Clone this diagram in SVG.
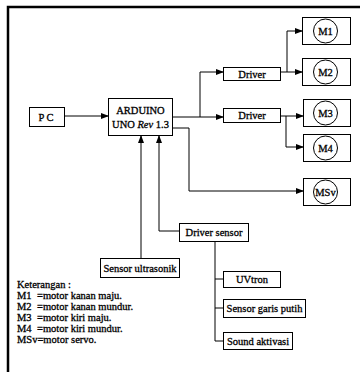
<svg xmlns="http://www.w3.org/2000/svg" width="360" height="372" viewBox="0 0 360 372">
<defs>
<style>
.box{fill:#fff;stroke:#000;stroke-width:1}
.c{fill:#fff;stroke:#000;stroke-width:1}
.t{font-family:"Liberation Serif","Times New Roman",serif;font-size:10.5px;fill:#000;stroke:#000;stroke-width:0.3;text-anchor:middle}
.l{font-family:"Liberation Serif","Times New Roman",serif;font-size:10.5px;fill:#000;stroke:#000;stroke-width:0.3}
.w{fill:none;stroke:#000;stroke-width:1}
</style>
<marker id="ah" markerWidth="8" markerHeight="6" refX="7" refY="3" orient="auto" markerUnits="userSpaceOnUse">
<path d="M0,0 L8,3 L0,6 Z" fill="#000"/>
</marker>
</defs>
<rect x="0" y="0" width="360" height="372" fill="#fff"/>
<g id="frame">
<path d="M8,372 V7 H360" fill="none" stroke="#000" stroke-width="2.5"/>
</g>
<g id="connectors">
<path class="w" d="M64,116 H108" marker-end="url(#ah)"/>
<path class="w" d="M172,117 H200 V72 H223" marker-end="url(#ah)"/>
<path class="w" d="M200,117 H223" marker-end="url(#ah)"/>
<path class="w" d="M172,128 H189 V191 H303" marker-end="url(#ah)"/>
<path class="w" d="M280,72 H302" marker-end="url(#ah)"/>
<path class="w" d="M287,72 V31 H302" marker-end="url(#ah)"/>
<path class="w" d="M280,116 H303" marker-end="url(#ah)"/>
<path class="w" d="M286,116 V147 H303" marker-end="url(#ah)"/>
<path class="w" d="M141,258 V136" marker-end="url(#ah)"/>
<path class="w" d="M179,231 H159 V136" marker-end="url(#ah)"/>
<path class="w" d="M215,242 V341 M215,279 H223 M215,308 H223 M215,341 H223"/>
</g>
<g id="pc"><rect class="box" x="29.5" y="107.5" width="35" height="19"/><text class="t" x="47" y="120.5" letter-spacing="2">PC</text></g>
<g id="arduino"><rect class="box" x="108.5" y="98.5" width="64" height="37"/><text class="t" x="140.5" y="114" font-size="11">ARDUINO</text><text class="t" x="140.5" y="127.5" font-size="11">UNO <tspan font-style="italic">Rev</tspan> 1.3</text></g>
<g id="driver1"><rect class="box" x="223.5" y="67.5" width="57" height="13"/><text class="t" x="252" y="77.5">Driver</text></g>
<g id="driver2"><rect class="box" x="223.5" y="108.5" width="57" height="14"/><text class="t" x="252" y="119">Driver</text></g>
<g id="m1"><rect class="box" x="302.5" y="17.5" width="48" height="27"/><circle class="c" cx="325.5" cy="31" r="12"/><text class="t" x="325.5" y="35" font-size="9.5">M1</text></g>
<g id="m2"><rect class="box" x="302.5" y="58.5" width="48" height="27"/><circle class="c" cx="325.5" cy="72" r="12"/><text class="t" x="325.5" y="76" font-size="9.5">M2</text></g>
<g id="m3"><rect class="box" x="303.5" y="99.5" width="47" height="27"/><circle class="c" cx="325.5" cy="113" r="12"/><text class="t" x="325.5" y="117" font-size="9.5">M3</text></g>
<g id="m4"><rect class="box" x="303.5" y="134.5" width="47" height="27"/><circle class="c" cx="325.5" cy="148" r="12"/><text class="t" x="325.5" y="152" font-size="9.5">M4</text></g>
<g id="msv"><rect class="box" x="303.5" y="178.5" width="47" height="27"/><circle class="c" cx="325.5" cy="192" r="12"/><text class="t" x="325.5" y="196" font-size="9.5">MSv</text></g>
<g id="ultrasonik"><rect class="box" x="100.5" y="258.5" width="79" height="19"/><text class="t" x="140" y="271.5">Sensor ultrasonik</text></g>
<g id="driversensor"><rect class="box" x="179.5" y="223.5" width="69" height="18"/><text class="t" x="214" y="236">Driver sensor</text></g>
<g id="uvtron"><rect class="box" x="223.5" y="271.5" width="57" height="16"/><text class="t" x="252" y="283">UVtron</text></g>
<g id="garis"><rect class="box" x="223.5" y="299.5" width="82" height="18"/><text class="t" x="264.5" y="312">Sensor garis putih</text></g>
<g id="sound"><rect class="box" x="223.5" y="332.5" width="69" height="17"/><text class="t" x="258" y="344.5">Sound aktivasi</text></g>
<g id="legend">
<text class="l" x="17" y="288">Keterangan :</text>
<text class="l" x="17" y="299">M1</text><text class="l" x="37" y="299">=motor kanan maju.</text>
<text class="l" x="17" y="310">M2</text><text class="l" x="37" y="310">=motor kanan mundur.</text>
<text class="l" x="17" y="321">M3</text><text class="l" x="37" y="321">=motor kiri maju.</text>
<text class="l" x="17" y="332">M4</text><text class="l" x="37" y="332">=motor kiri mundur.</text>
<text class="l" x="17" y="343">MSv=motor servo.</text>
</g>
</svg>
